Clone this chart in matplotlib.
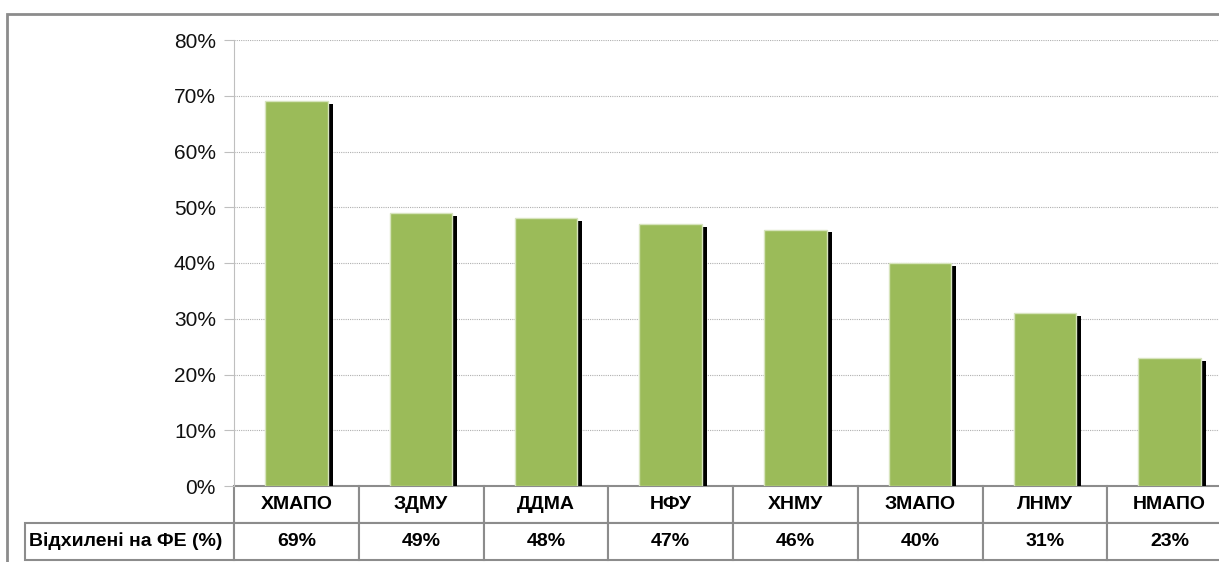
import matplotlib.pyplot as plt
from matplotlib.patches import Rectangle
from matplotlib.ticker import FuncFormatter

plt.rcParams['font.family'] = ['Liberation Sans', 'DejaVu Sans']

# data
universities = ['ХМАПО', 'ЗДМУ', 'ДДМА', 'НФУ', 'ХНМУ', 'ЗМАПО', 'ЛНМУ', 'НМАПО']
rejected = [0.69, 0.49, 0.48, 0.47, 0.46, 0.40, 0.31, 0.23]
row_label = 'Відхилені на ФЕ (%)'

W, H = 1219, 562
fig = plt.figure(figsize=(W / 100, H / 100), dpi=100)

# axes px: left 234, right 1232 (cut off), top 40, bottom 486
ax = fig.add_axes([234 / W, (H - 486) / H, 998 / W, 446 / H])

x = range(len(universities))
bar_w = 0.5
# black shadow behind each bar
ax.bar([i + 0.04 for i in x], [v - 0.005 for v in rejected], width=bar_w,
       color='black', zorder=2)
ax.bar(x, rejected, width=bar_w, color='#9BBB59', edgecolor='#D7E4BD',
       linewidth=1, zorder=3)

ax.set_xlim(-0.5, len(universities) - 0.5)
ax.set_ylim(0, 0.8)
ax.set_yticks([i / 10 for i in range(9)])
ax.yaxis.set_major_formatter(FuncFormatter(lambda v, p: f'{v:.0%}'))
ax.tick_params(axis='y', labelsize=15, length=7, color='#BFBFBF', pad=6,
               labelcolor='#111111')
ax.set_xticks([])
ax.grid(axis='y', color='#B0B0B0', linestyle=(0, (1, 1)), linewidth=0.8, zorder=0)
for s in ['top', 'right', 'bottom']:
    ax.spines[s].set_visible(False)
ax.spines['left'].set_color('#BFBFBF')

# data table under the chart
cells = [[''] + universities,
         [row_label] + [f'{round(v * 100)}%' for v in rejected]]
col_w = [209] + [124.75] * len(universities)
tot = sum(col_w)
tbl = ax.table(cellText=cells, colWidths=[c / tot for c in col_w],
               cellLoc='center', bbox=[-209 / 998, -74 / 446, tot / 998, 74 / 446])
tbl.auto_set_font_size(False)
tbl.set_fontsize(14)
for (r, c), cell in tbl.get_celld().items():
    cell.set_edgecolor('#8C8C8C')
    cell.set_linewidth(1.5)
    cell.set_text_props(fontsize=14, fontweight='bold')
    if r == 0 and c == 0:
        cell.visible_edges = ''
    if r == 1 and c == 0:
        cell.get_text().set_horizontalalignment('left')
        cell.PAD = 0.02

# outer chart-area border (right/bottom sides run off the image)
fig.patches.append(Rectangle((7 / W, -0.1), 1.2, (H - 14) / H + 0.1,
                             transform=fig.transFigure, fill=False,
                             edgecolor='#8C8C8C', linewidth=2))

fig.savefig('out.png', dpi=100)
